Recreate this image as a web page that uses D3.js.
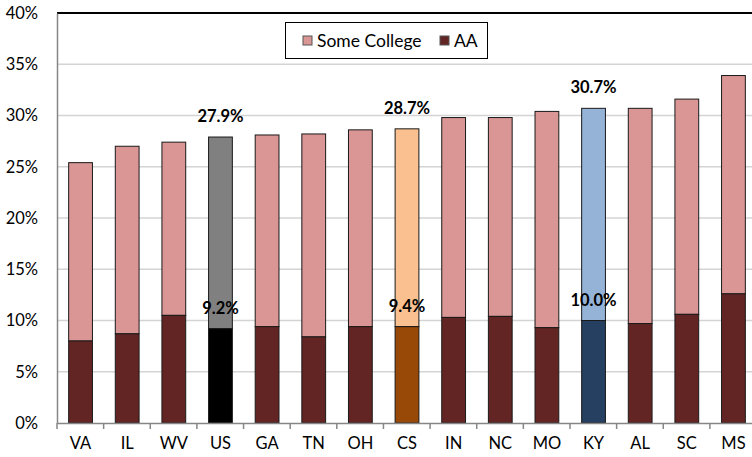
<!DOCTYPE html>
<html><head><meta charset="utf-8">
<script src="https://cdn.jsdelivr.net/npm/d3@7"></script>
<style>body{margin:0;background:#fff}svg{display:block;font-family:Lato,"Open Sans",sans-serif}</style>
</head><body><svg id="c" width="752" height="457"></svg>
<script>
const categories = ["VA","IL","WV","US","GA","TN","OH","CS","IN","NC","MO","KY","AL","SC","MS"];
const aa          = [8.0, 8.7, 10.5, 9.2, 9.4, 8.4, 9.4, 9.4, 10.3, 10.4, 9.3, 10.0, 9.7, 10.6, 12.6];
const someCollege = [17.4, 18.3, 16.9, 18.7, 18.7, 19.8, 19.2, 19.3, 19.5, 19.4, 21.1, 20.7, 21.0, 21.0, 21.3];
const yTicks = [0,5,10,15,20,25,30,35,40];
const seriesNames = ["Some College","AA"];
const highlighted = {US:["#808080","#000000"], CS:["#FAC090","#984807"], KY:["#95B3D7","#254061"]};
const labelled = ["US","CS","KY"];

const svg = d3.select("#c");
const L = 57, R = 757, T = 13, B = 423;
const x = d3.scaleBand().domain(categories).range([L, R]).paddingInner(0.49).paddingOuter(0.25);
const y = d3.scaleLinear().domain([0, 40]).range([B, T]);
const step = x.step(), bw = x.bandwidth();

// gridlines
svg.append("g").selectAll("line").data(yTicks.filter(t => t > 0 && t < 40)).join("line")
  .attr("x1", L).attr("x2", 752).attr("y1", d => y(d)).attr("y2", d => y(d))
  .attr("stroke", "#d4d4d4").attr("stroke-width", 1.5);
// top border
svg.append("line").attr("x1", L).attr("x2", 752).attr("y1", y(40)).attr("y2", y(40))
  .attr("stroke", "#000").attr("stroke-width", 2);

const rows = categories.map((c, i) => ({c, aa: aa[i], sc: someCollege[i], total: aa[i] + someCollege[i]}));
const g = svg.append("g");
rows.forEach(r => {
  const col = highlighted[r.c] || ["#D99694", "#632523"];
  g.append("rect").attr("x", x(r.c)).attr("width", bw)
    .attr("y", y(r.total)).attr("height", y(r.aa) - y(r.total))
    .attr("fill", col[0]).attr("stroke", "#1a1a1a").attr("stroke-width", 1);
  g.append("rect").attr("x", x(r.c)).attr("width", bw)
    .attr("y", y(r.aa)).attr("height", y(0) - y(r.aa))
    .attr("fill", col[1]).attr("stroke", "#1a1a1a").attr("stroke-width", 1);
});

// y axis
const ya = svg.append("g").attr("transform", `translate(${L},0)`)
  .call(d3.axisLeft(y).tickValues(yTicks).tickFormat(d => d + "%").tickSize(0).tickPadding(19));
ya.select(".domain").attr("stroke", "#868686").attr("stroke-width", 1.5);
ya.selectAll("text").attr("font-size", 16.5).attr("fill", "#000").attr("font-family", "Lato, sans-serif");

// x axis
const xa = svg.append("g").attr("transform", `translate(0,${B})`)
  .call(d3.axisBottom(x).tickSize(0).tickPadding(14));
xa.select(".domain").attr("stroke", "#868686").attr("stroke-width", 1.5);
xa.selectAll("text").attr("font-size", 16.5).attr("fill", "#000").attr("font-family", "Lato, sans-serif");
svg.append("g").selectAll("line").data(d3.range(categories.length + 1)).join("line")
  .attr("x1", i => L + i * step).attr("x2", i => L + i * step)
  .attr("y1", B).attr("y2", B + 6).attr("stroke", "#868686").attr("stroke-width", 1.5);

// labels
rows.filter(r => labelled.includes(r.c)).forEach(r => {
  const cx = x(r.c) + bw / 2;
  svg.append("text").attr("x", cx).attr("y", y(r.total) - 21).attr("dy", "0.35em")
    .attr("text-anchor", "middle").attr("font-weight", "bold").attr("font-size", 16.5)
    .text(r.total.toFixed(1) + "%");
  svg.append("text").attr("x", cx).attr("y", y(r.aa) - 20).attr("dy", "0.35em")
    .attr("text-anchor", "middle").attr("font-weight", "bold").attr("font-size", 16.5)
    .text(r.aa.toFixed(1) + "%");
});

// legend
const lg = svg.append("g");
lg.append("rect").attr("x", 285.5).attr("y", 22.5).attr("width", 202).attr("height", 36)
  .attr("fill", "#fff").attr("stroke", "#000").attr("stroke-width", 1);
const items = [{n: seriesNames[0], c: "#D99694", x: 303}, {n: seriesNames[1], c: "#632523", x: 440}];
items.forEach(it => {
  lg.append("rect").attr("x", it.x).attr("y", 36).attr("width", 9).attr("height", 9)
    .attr("fill", it.c).attr("stroke", "#555").attr("stroke-width", 1);
  lg.append("text").attr("x", it.x + 14).attr("y", 41).attr("dy", "0.35em")
    .attr("font-size", 17.5).text(it.n);
});
</script></body></html>
